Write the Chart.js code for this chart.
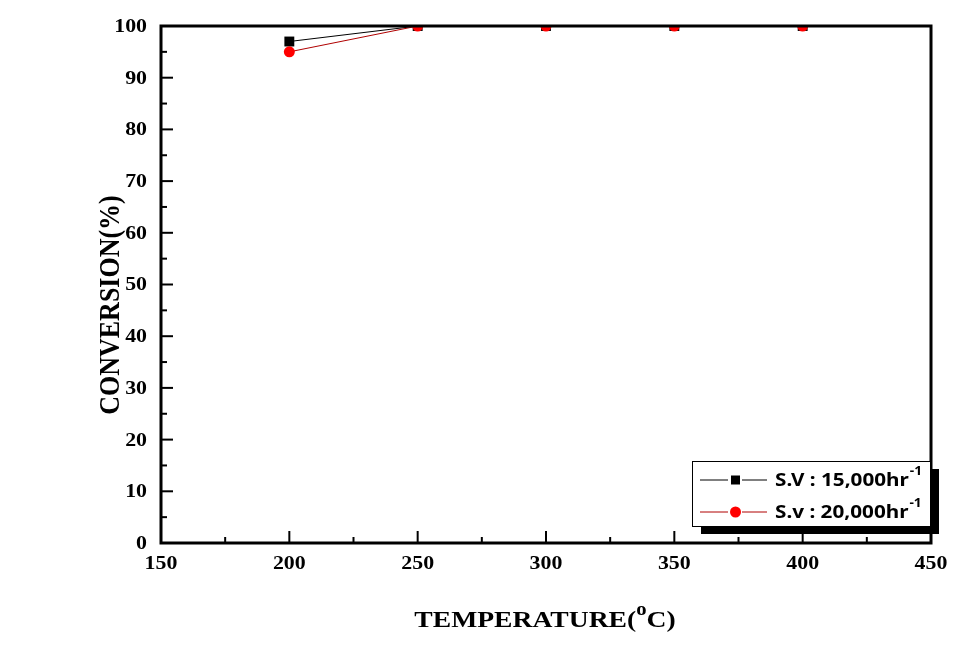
<!DOCTYPE html>
<html><head><meta charset="utf-8">
<script src="https://cdn.jsdelivr.net/npm/chart.js@4/dist/chart.umd.min.js"></script>
<style>html,body{margin:0;padding:0;background:#fff}#wrap{width:977px;height:651px}</style>
</head><body><div id="wrap"><canvas id="c" width="977" height="651"></canvas></div>
<script>
const temperatures = [200, 250, 300, 350, 400];
const sv15000 = [97, 100, 100, 100, 100];
const sv20000 = [95, 100, 100, 100, 100];
const seriesNames = ['S.V : 15,000hr', 'S.v : 20,000hr'];
const xTicks = [150, 200, 250, 300, 350, 400, 450];
const yTicks = [0, 10, 20, 30, 40, 50, 60, 70, 80, 90, 100];
const yTitle = 'CONVERSION(%)';
const xTitleMain = 'TEMPERATURE(';
const xTitleSup = 'o';
const xTitleEnd = 'C)';

const serif = '"Liberation Serif","Times New Roman",serif';
const sans = '"Noto Sans","DejaVu Sans",sans-serif';
const SX = 1.15; // horizontal stretch of the original image's text

function stretchedText(ctx, text, x, y, align) {
  ctx.save();
  ctx.translate(x, y);
  ctx.scale(SX, 1);
  ctx.textAlign = align;
  ctx.fillText(text, 0, 0);
  ctx.restore();
}

const framePlugin = {
  id: 'frame',
  afterDatasetsDraw(chart) {
    const ctx = chart.ctx, a = chart.chartArea;
    const xs = chart.scales.x, ys = chart.scales.y;
    ctx.save();
    ctx.strokeStyle = '#000';
    ctx.lineWidth = 3;
    ctx.strokeRect(a.left, a.top, a.right - a.left, a.bottom - a.top);
    ctx.lineWidth = 2;
    for (let v = 0; v <= 100; v += 5) {
      const y = ys.getPixelForValue(v);
      const len = (v % 10 === 0) ? 12 : 6;
      ctx.beginPath(); ctx.moveTo(a.left, y); ctx.lineTo(a.left + len, y); ctx.stroke();
    }
    for (let v = 150; v <= 450; v += 25) {
      const x = xs.getPixelForValue(v);
      const len = (v % 50 === 0) ? 12 : 6;
      ctx.beginPath(); ctx.moveTo(x, a.bottom); ctx.lineTo(x, a.bottom - len); ctx.stroke();
    }
    ctx.restore();
  },
  afterDraw(chart) {
    const ctx = chart.ctx, a = chart.chartArea;
    const xs = chart.scales.x, ys = chart.scales.y;
    ctx.save();
    ctx.fillStyle = '#000';
    // tick labels
    ctx.font = 'bold 19px ' + serif;
    ctx.textBaseline = 'middle';
    yTicks.forEach(v => stretchedText(ctx, String(v), a.left - 14, ys.getPixelForValue(v) + 1, 'right'));
    ctx.textBaseline = 'top';
    xTicks.forEach(v => stretchedText(ctx, String(v), xs.getPixelForValue(v), a.bottom + 12, 'center'));
    // y title
    ctx.save();
    ctx.font = 'bold 26px ' + serif;
    ctx.textAlign = 'center'; ctx.textBaseline = 'middle';
    ctx.translate(111, 305);
    ctx.scale(SX, 1);
    ctx.rotate(-Math.PI / 2);
    ctx.fillText(yTitle, 0, 0);
    ctx.restore();
    // x title
    ctx.save();
    ctx.textAlign = 'left'; ctx.textBaseline = 'alphabetic';
    ctx.font = 'bold 24px ' + serif;
    const w1 = ctx.measureText(xTitleMain).width;
    ctx.font = 'bold 18px ' + serif;
    const w2 = ctx.measureText(xTitleSup).width;
    ctx.font = 'bold 24px ' + serif;
    const w3 = ctx.measureText(xTitleEnd).width;
    const total = (w1 + w2 + w3) * SX;
    ctx.translate(545 - total / 2, 627);
    ctx.scale(SX, 1);
    let x = 0;
    ctx.fillText(xTitleMain, x, 0); x += w1;
    ctx.font = 'bold 18px ' + serif;
    ctx.fillText(xTitleSup, x, -12); x += w2;
    ctx.font = 'bold 24px ' + serif;
    ctx.fillText(xTitleEnd, x, 0);
    ctx.restore();
    // legend
    const lx = 692, ly = 461, lw = 238, lh = 65;
    ctx.fillStyle = '#000';
    ctx.fillRect(lx + 9, ly + 8, lw, lh);
    ctx.fillStyle = '#fff';
    ctx.fillRect(lx, ly, lw, lh);
    ctx.strokeStyle = '#000'; ctx.lineWidth = 1;
    ctx.strokeRect(lx + 0.5, ly + 0.5, lw, lh);
    const rows = [ly + 19, ly + 51];
    const ds = chart.data.datasets;
    rows.forEach((ry, i) => {
      ctx.strokeStyle = ds[i].borderColor; ctx.lineWidth = 1;
      ctx.beginPath(); ctx.moveTo(700, ry); ctx.lineTo(728, ry); ctx.moveTo(742, ry); ctx.lineTo(767, ry); ctx.stroke();
      ctx.fillStyle = ds[i].pointBackgroundColor;
      if (i === 0) ctx.fillRect(731, ry - 4.5, 9, 9);
      else { ctx.beginPath(); ctx.arc(735.5, ry, 5.5, 0, Math.PI * 2); ctx.fill(); }
      ctx.fillStyle = '#000';
      ctx.font = 'bold 18px ' + sans;
      ctx.textBaseline = 'middle';
      stretchedText(ctx, seriesNames[i], 775, ry + 1, 'left');
      const tw = ctx.measureText(seriesNames[i]).width * SX;
      ctx.font = 'bold 12px ' + sans;
      stretchedText(ctx, '-1', 775 + tw + 1, ry - 8, 'left');
    });
    ctx.restore();
  }
};

new Chart(document.getElementById('c'), {
  type: 'line',
  data: {
    datasets: [
      { label: seriesNames[0], data: temperatures.map((t, i) => ({x: t, y: sv15000[i]})), order: 2,
        borderColor: '#000', borderWidth: 1, pointStyle: 'rect', pointRadius: 7,
        pointBackgroundColor: '#000', pointBorderColor: '#000', pointBorderWidth: 0 },
      { label: seriesNames[1], data: temperatures.map((t, i) => ({x: t, y: sv20000[i]})), order: 1,
        borderColor: '#b00000', borderWidth: 1, pointStyle: 'circle', pointRadius: 5.5,
        pointBackgroundColor: '#ff0000', pointBorderColor: '#ff0000', pointBorderWidth: 0 }
    ]
  },
  options: {
    responsive: false, animation: false,
    layout: { padding: { left: 0, top: 26, right: 46, bottom: 0 } },
    plugins: { legend: { display: false }, tooltip: { enabled: false } },
    scales: {
      x: {
        type: 'linear', min: 150, max: 450,
        afterFit(s) { s.height = 108; },
        afterBuildTicks(s) { s.ticks = xTicks.map(v => ({ value: v })); },
        grid: { display: false, drawTicks: false },
        border: { display: false },
        ticks: { display: false }
      },
      y: {
        type: 'linear', min: 0, max: 100,
        afterFit(s) { s.width = 161; },
        afterBuildTicks(s) { s.ticks = yTicks.map(v => ({ value: v })); },
        grid: { display: false, drawTicks: false },
        border: { display: false },
        ticks: { display: false }
      }
    }
  },
  plugins: [framePlugin]
});
</script></body></html>
